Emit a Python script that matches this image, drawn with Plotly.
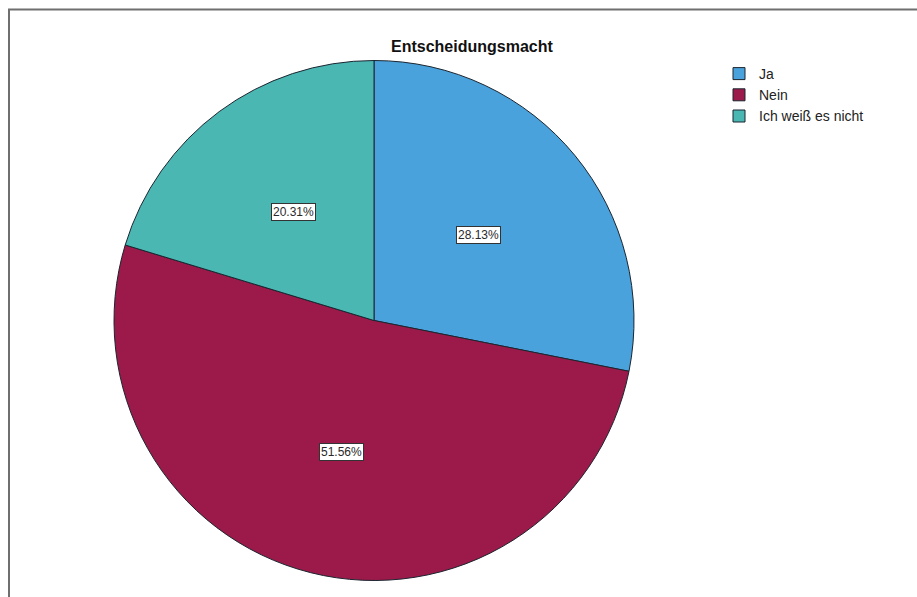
import math
import plotly.graph_objects as go

# Answers to the question on decision-making power (percent of respondents)
categories = ["Ja", "Nein", "Ich weiß es nicht"]
shares = [28.13, 51.56, 20.31]
value_labels = ["28.13%", "51.56%", "20.31%"]

colors = ["#4aa2dc", "#9c1a4a", "#4ab7b3"]

W, H = 917, 597
# pie geometry in pixels
cx, cy, r = 374, 320.5, 260
dom_x = [(cx - r) / W, (cx + r) / W]
dom_y = [1 - (cy + r) / H, 1 - (cy - r) / H]

fig = go.Figure(
    go.Pie(
        labels=categories,
        values=shares,
        sort=False,
        direction="clockwise",
        rotation=0,
        textinfo="none",
        hoverinfo="label+percent",
        marker=dict(colors=colors, line=dict(color="#1b2530", width=1)),
        domain=dict(x=dom_x, y=dom_y),
    )
)

# boxed percentage labels placed at the middle of each slice
total = sum(shares)
acc = 0.0
annotations = []
for val, txt in zip(shares, value_labels):
    mid = (acc + val / 2) / total * 2 * math.pi
    acc += val
    px = cx + 0.52 * r * math.sin(mid)
    py = cy - 0.52 * r * math.cos(mid)
    annotations.append(
        dict(
            x=px / W, y=1 - py / H, xref="paper", yref="paper",
            xanchor="center", yanchor="middle",
            text=txt, showarrow=False,
            font=dict(family="Liberation Sans, Arial", size=12, color="#2a2a2a"),
            bgcolor="white", bordercolor="#333333", borderwidth=1, borderpad=1,
        )
    )

annotations.append(
    dict(
        x=472 / W, y=1 - 47 / H, xref="paper", yref="paper",
        text="<b>Entscheidungsmacht</b>", showarrow=False,
        font=dict(family="Liberation Sans, Arial", size=16, color="#111111"),
        xanchor="center", yanchor="middle",
    )
)

fig.update_layout(
    width=W, height=H,
    margin=dict(l=0, r=0, t=0, b=0),
    paper_bgcolor="white", plot_bgcolor="white",
    annotations=annotations,
    legend=dict(
        x=719 / W, y=1 - 58 / H, xanchor="left", yanchor="top",
        font=dict(family="Liberation Sans, Arial", size=14, color="#222222"),
        bgcolor="rgba(0,0,0,0)", tracegroupgap=0, itemclick=False,
    ),
    shapes=[
        dict(
            type="rect", xref="paper", yref="paper",
            x0=9 / W, x1=1.01, y0=-0.05, y1=1 - 9.5 / H,
            line=dict(color="#6f6f6f", width=2), fillcolor="rgba(0,0,0,0)",
            layer="below",
        )
    ],
)

fig.write_html("out.html")
